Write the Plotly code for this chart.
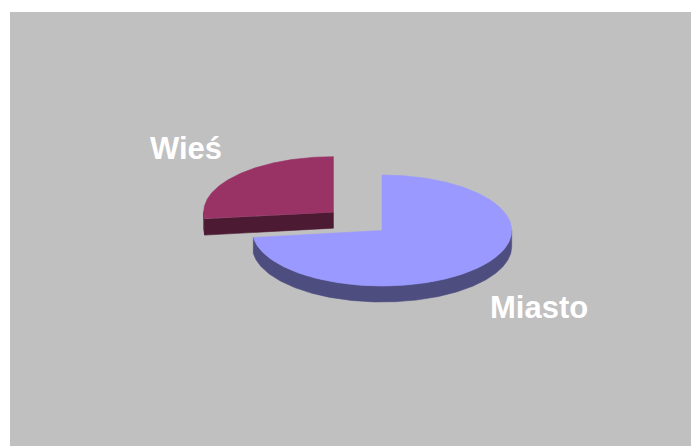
import numpy as np
import plotly.graph_objects as go

# ---- data ----
categories = ["Miasto", "Wieś"]
values = [73, 27]
top_colors = ["#9999FF", "#993366"]
side_colors = ["#4D4D80", "#4D1A33"]
explode = [0.0, 0.5]

# ---- layout constants (pixel-like coordinates) ----
W, H = 692, 446
CX, CY = 382.0, 230.5      # pie centre
RX, RY = 129.7, 55.5       # ellipse radii (tilted circle)
DEPTH = 16.0               # thickness of the 3D pie

total = float(sum(values))
# start at 12 o'clock, go clockwise (math angle decreasing)
slices = []
start = 90.0
for cat, v, tc, sc, ex in zip(categories, values, top_colors, side_colors, explode):
    sweep = 360.0 * v / total
    a0, a1 = start, start - sweep          # a0 > a1 (clockwise)
    mid = np.radians((a0 + a1) / 2)
    ox = ex * RX * np.cos(mid)
    oy = -ex * RY * np.sin(mid)
    slices.append(dict(cat=cat, a0=a0, a1=a1, tc=tc, sc=sc,
                       cx=CX + ox, cy=CY + oy))
    start = a1


def rim(cx, cy, angs, dy=0.0):
    r = np.radians(angs)
    return cx + RX * np.cos(r), cy - RY * np.sin(r) + dy


fig = go.Figure()


def add_poly(xs, ys, color):
    fig.add_trace(go.Scatter(x=list(xs) + [xs[0]], y=list(ys) + [ys[0]],
                             mode="lines", fill="toself", fillcolor=color,
                             line=dict(color=color, width=0.6),
                             hoverinfo="skip", showlegend=False))


# draw back (exploded) slices first, front slice last
order = sorted(range(len(slices)), key=lambda i: slices[i]["cy"])
for i in order:
    s = slices[i]
    cx, cy = s["cx"], s["cy"]
    a_hi, a_lo = s["a0"], s["a1"]
    # --- radial cut faces that face the viewer ---
    for ang, side_sign in ((a_hi, +1), (a_lo, -1)):
        nrm = np.radians(ang + 90 * side_sign)
        if np.sin(nrm) < -1e-6:
            px, py = rim(cx, cy, np.array([ang]))
            xs = [cx, px[0], px[0], cx]
            ys = [cy, py[0], py[0] + DEPTH, cy + DEPTH]
            add_poly(xs, ys, s["sc"])
    # --- outer rim (front half: math angles in (180, 360)) ---
    angs = np.linspace(a_lo, a_hi, 400)
    vis = np.sin(np.radians(angs)) < 0
    if vis.any():
        va = angs[vis]
        tx, ty = rim(cx, cy, va)
        bx, by = rim(cx, cy, va[::-1], DEPTH)
        add_poly(np.concatenate([tx, bx]), np.concatenate([ty, by]), s["sc"])
    # --- top face ---
    tx, ty = rim(cx, cy, np.linspace(a_hi, a_lo, 400))
    add_poly(np.concatenate([[cx], tx]), np.concatenate([[cy], ty]), s["tc"])

# labels
label_pos = {"Wieś": (186, 148), "Miasto": (539, 307)}
for cat in categories:
    x, y = label_pos[cat]
    fig.add_annotation(x=x, y=y, text=f"<b>{cat}</b>", showarrow=False,
                       xanchor="center", yanchor="middle",
                       font=dict(family="Liberation Sans, Arial, sans-serif",
                                 size=31, color="white"))

fig.update_layout(
    width=W, height=H,
    margin=dict(l=10, r=1, t=12, b=0),
    paper_bgcolor="white", plot_bgcolor="#C0C0C0",
    xaxis=dict(range=[10, W - 1], visible=False, fixedrange=True),
    yaxis=dict(range=[H, 12], visible=False, fixedrange=True),
    showlegend=False,
)

fig.write_html("out.html", config={"displayModeBar": False},
               post_script="document.body.style.margin='0';"
                           "document.body.style.overflow='hidden';")
